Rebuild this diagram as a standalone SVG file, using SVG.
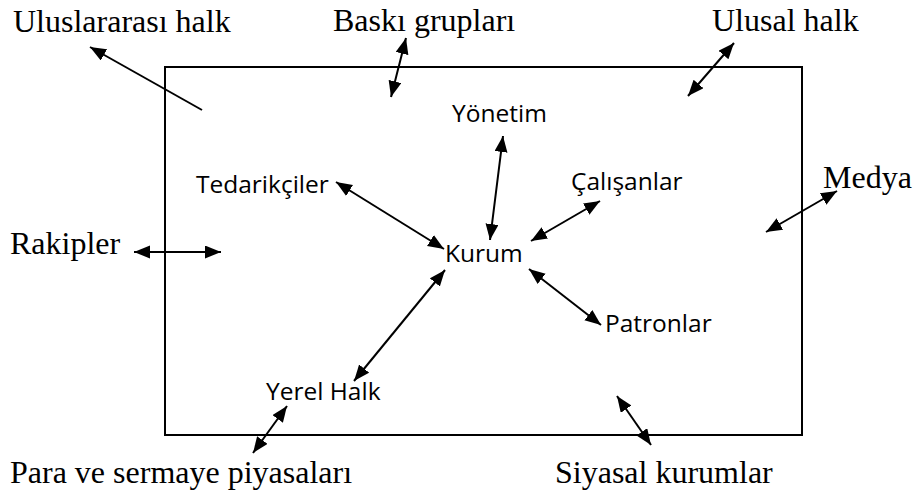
<svg xmlns="http://www.w3.org/2000/svg" width="917" height="498" viewBox="0 0 917 498">
<style>
.serif{font-family:"Liberation Serif","Times New Roman",serif;font-size:32px;fill:#000}
.sans{font-family:"Open Sans","Liberation Sans",sans-serif;font-size:24.5px;fill:#000}
.c{stroke:#000;stroke-width:2;fill:none}
.d{marker-start:url(#ah);marker-end:url(#ah)}
</style>
<defs>
<marker id="ah" markerUnits="userSpaceOnUse" markerWidth="18" markerHeight="14" refX="16" refY="6.5" orient="auto-start-reverse">
<path d="M0,0 L16,6.5 L0,13 z" fill="#000"/>
</marker>
</defs>
<rect id="frame" x="165" y="67" width="637" height="368" fill="none" stroke="#000" stroke-width="2"/>
<g id="outer-labels">
<g id="n-uluslararasi"><text class="serif" x="13" y="32">Uluslararası halk</text></g>
<g id="n-baski"><text class="serif" x="333" y="31">Baskı grupları</text></g>
<g id="n-ulusal"><text class="serif" x="712" y="31">Ulusal halk</text></g>
<g id="n-medya"><text class="serif" x="823" y="188">Medya</text></g>
<g id="n-rakipler"><text class="serif" x="10" y="254">Rakipler</text></g>
<g id="n-para"><text class="serif" x="10" y="483">Para ve sermaye piyasaları</text></g>
<g id="n-siyasal"><text class="serif" x="555" y="483">Siyasal kurumlar</text></g>
</g>
<g id="inner-labels">
<g id="n-yonetim"><text class="sans" x="452" y="122">Yönetim</text></g>
<g id="n-tedarikciler"><text class="sans" x="196" y="193">Tedarikçiler</text></g>
<g id="n-calisanlar"><text class="sans" x="571" y="190">Çalışanlar</text></g>
<g id="n-kurum"><text class="sans" x="445" y="262">Kurum</text></g>
<g id="n-patronlar"><text class="sans" x="605" y="332">Patronlar</text></g>
<g id="n-yerel"><text class="sans" x="266" y="400">Yerel Halk</text></g>
</g>
<g id="connectors">
<line class="c" x1="202" y1="110" x2="90" y2="47" marker-end="url(#ah)"/>
<line class="c d" x1="406" y1="38" x2="391" y2="97"/>
<line class="c d" x1="734" y1="43" x2="688" y2="96"/>
<line class="c d" x1="503" y1="136" x2="490" y2="240"/>
<line class="c d" x1="600" y1="201" x2="531" y2="241"/>
<line class="c d" x1="336" y1="182" x2="444" y2="249"/>
<line class="c d" x1="134" y1="252" x2="221" y2="252"/>
<line class="c d" x1="837" y1="191" x2="766" y2="232"/>
<line class="c d" x1="445" y1="270" x2="354" y2="381"/>
<line class="c d" x1="287" y1="406" x2="253" y2="453"/>
<line class="c d" x1="529" y1="269" x2="601" y2="325"/>
<line class="c d" x1="617" y1="396" x2="651" y2="445"/>
</g>
</svg>
